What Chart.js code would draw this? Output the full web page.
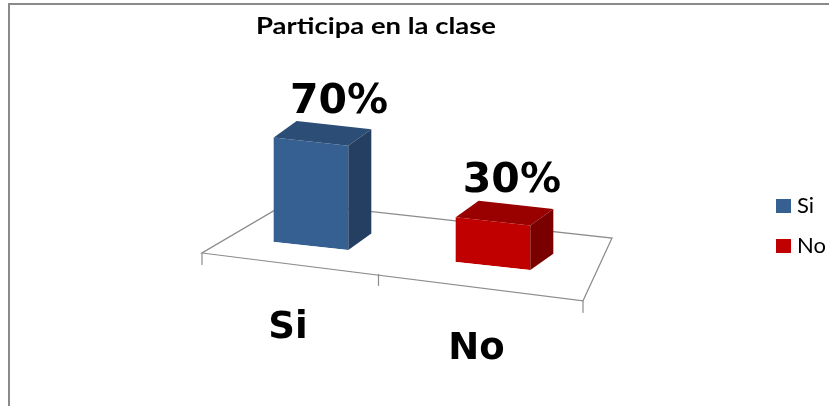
<!DOCTYPE html>
<html>
<head>
<meta charset="utf-8">
<script src="https://cdn.jsdelivr.net/npm/chart.js@4.4.1/dist/chart.umd.min.js"></script>
<style>
  html, body { margin: 0; padding: 0; background: #fff; }
  canvas { display: block; }
</style>
</head>
<body>
<canvas id="chart" width="829" height="406"></canvas>
<script>
const chartTitle = 'Participa en la clase';
const categories = ['Si', 'No'];
const seriesNames = ['Si', 'No'];
const siValues = [70, null];
const noValues = [null, 30];

const frontColors = ['#376092', '#C00000'];
const topColors = ['#2C4D76', '#990000'];
const sideColors = ['#243F61', '#7A0000'];

// fake 3d: vertical shear + depth offset
const SHEAR = 0.11;
const DX = 23;
const DY = -19;

// text drawn squeezed/stretched to a given width
function fitText(ctx, text, x, y, w) {
    const m = ctx.measureText(text).width;
    ctx.save();
    ctx.translate(x, y);
    ctx.scale(w / m, 1);
    ctx.textAlign = 'center';
    ctx.fillText(text, 0, 0);
    ctx.restore();
}

const excel3d = {
    id: 'excel3d',
    beforeDatasetsDraw(chart) {
        const ctx = chart.ctx;
        const area = chart.chartArea;
        const x0 = area.left - 18;
        const base = chart.scales.y.getPixelForValue(0);
        ctx.save();
        ctx.transform(1, SHEAR, 0, 1, 0, -SHEAR * x0);

        // floor
        const fy = base + 19, by = base - 41;
        const fl = x0, fr = area.right - 1;
        const bl = area.left + 68, br = area.right + 28;
        ctx.strokeStyle = '#8c8c8c';
        ctx.lineWidth = 1.2;
        ctx.beginPath();
        ctx.moveTo(fl, fy);
        ctx.lineTo(fr, fy + 6);
        ctx.lineTo(br, by);
        ctx.lineTo(bl, by);
        ctx.closePath();
        ctx.stroke();
        const mid = (fl + fr) / 2 - 14;
        [[fl, fy], [mid, fy + 1.5], [fr, fy + 6]].forEach(function(t){
            ctx.beginPath();
            ctx.moveTo(t[0], t[1]);
            ctx.lineTo(t[0], t[1] + 12);
            ctx.stroke();
        });
    },
    afterDatasetsDraw(chart) {
        const ctx = chart.ctx;
        chart.data.datasets.forEach(function(ds, di){
            const meta = chart.getDatasetMeta(di);
            meta.data.forEach(function(el, i){
                if (ds.data[i] === null) return;
                const l = el.x - el.width / 2, r = el.x + el.width / 2;
                ctx.fillStyle = topColors[di];
                ctx.beginPath();
                ctx.moveTo(l, el.y);
                ctx.lineTo(r, el.y);
                ctx.lineTo(r + DX, el.y + DY);
                ctx.lineTo(l + DX, el.y + DY);
                ctx.closePath();
                ctx.fill();
                ctx.fillStyle = sideColors[di];
                ctx.beginPath();
                ctx.moveTo(r, el.y);
                ctx.lineTo(r + DX, el.y + DY);
                ctx.lineTo(r + DX, el.base + DY);
                ctx.lineTo(r, el.base);
                ctx.closePath();
                ctx.fill();
            });
        });
        ctx.restore();

        const area = chart.chartArea;
        const x0 = area.left - 18;
        const sheared = function(x, y){ return y + SHEAR * (x - x0); };
        const persp = function(x){ return 0.05 * (x - area.left - area.width / 4); };

        // value + category labels
        ctx.fillStyle = '#000';
        ctx.textAlign = 'center';
        ctx.textBaseline = 'alphabetic';
        chart.data.datasets.forEach(function(ds, di){
            const meta = chart.getDatasetMeta(di);
            meta.data.forEach(function(el, i){
                if (ds.data[i] === null) return;
                ctx.font = 'bold 41px "DejaVu Sans"';
                const vx = el.x + 28 - persp(el.x);
                ctx.fillText(ds.data[i] + '%', vx, sheared(el.x, el.y) - 29);
                ctx.font = 'bold 37px "DejaVu Sans"';
                const cx = el.x - 23 + persp(el.x) * 0.7;
                ctx.fillText(categories[i], cx, sheared(cx, el.base) + 95);
            });
        });

        // title
        ctx.font = 'bold 22px Lato';
        fitText(ctx, chartTitle, 376, 34, 240);

        // legend
        ctx.textAlign = 'left';
        ctx.font = '22px Lato';
        seriesNames.forEach(function(name, i){
            const ly = 199 + i * 40;
            ctx.fillStyle = frontColors[i];
            ctx.fillRect(776, ly, 15, 14);
            ctx.fillStyle = '#000';
            ctx.fillText(name, 797, ly + 14);
        });

        // outer border
        ctx.strokeStyle = '#8a8a8a';
        ctx.lineWidth = 2;
        ctx.beginPath();
        ctx.moveTo(9, 410);
        ctx.lineTo(9, 4);
        ctx.lineTo(835, 4);
        ctx.stroke();
    }
};

new Chart(document.getElementById('chart'), {
    type: 'bar',
    data: {
        labels: categories,
        datasets: [
            { label: seriesNames[0], data: siValues, backgroundColor: frontColors[0] },
            { label: seriesNames[1], data: noValues, backgroundColor: frontColors[1] }
        ]
    },
    options: {
        responsive: false,
        animation: false,
        devicePixelRatio: 1,
        layout: { padding: { left: 220, right: 245, top: 85, bottom: 172 } },
        datasets: {
            bar: { grouped: false, barPercentage: 1, categoryPercentage: 0.41 }
        },
        scales: {
            x: { display: false },
            y: { display: false, min: 0, max: 100 }
        },
        plugins: {
            legend: { display: false },
            title: { display: false },
            tooltip: { enabled: false }
        }
    },
    plugins: [excel3d]
});
</script>
</body>
</html>
